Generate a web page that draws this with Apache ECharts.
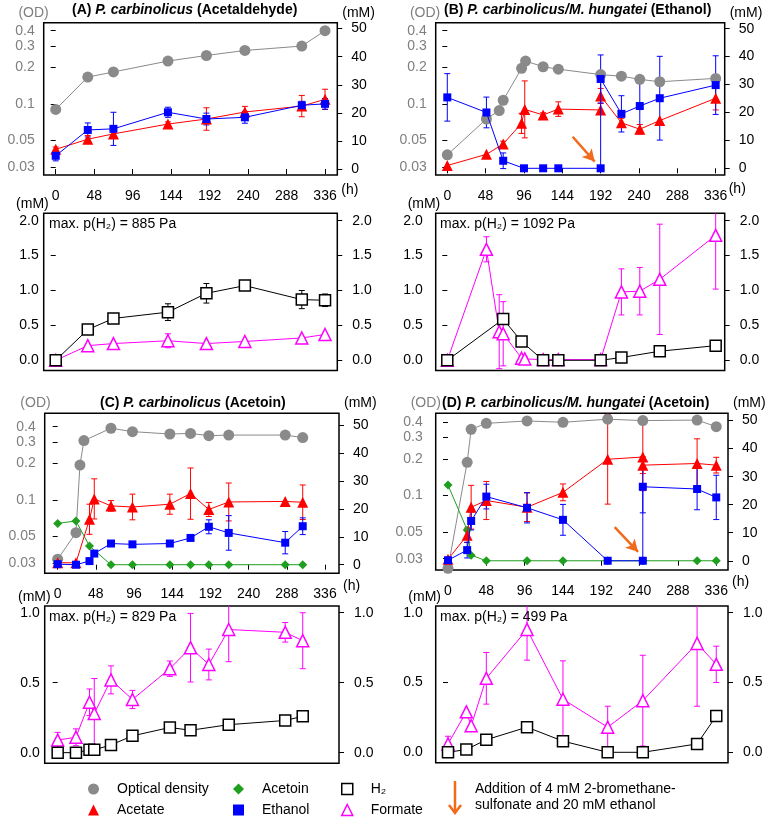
<!DOCTYPE html>
<html><head><meta charset="utf-8">
<script src="https://cdn.jsdelivr.net/npm/echarts@6/dist/echarts.min.js"></script>
<style>html,body{margin:0;padding:0;background:#fff}#c{width:773px;height:820px}</style>
</head><body><div id="c"></div>
<script>
// ---------------- tick labels ----------------
const xTicks = [0, 48, 96, 144, 192, 240, 288, 336];
const odTicks = [0.03, 0.05, 0.1, 0.2, 0.3, 0.4];
const mMTicks = [0, 10, 20, 30, 40, 50];
const h2TicksAB = [0, 0.5, 1, 1.5, 2];
const h2TicksCD = [0, 0.5, 1];

// ---------------- Panel A ----------------
const A_odTime = [0, 40, 72, 140, 188, 236, 307, 336];
const A_od = [0.090, 0.166, 0.183, 0.225, 0.250, 0.275, 0.299, 0.40];
const A_time = [0, 40, 72, 140, 188, 236, 307, 336];
const A_acetate = [7.0, 10.6, 12.5, 16.0, 17.8, 20.3, 22.4, 24.8];
const A_acetateSD = [0.8, 1.3, 1.5, 0.8, 4.0, 2.0, 3.8, 3.6];
const A_ethanol = [4.7, 13.9, 14.3, 20.2, 17.8, 18.4, 22.7, 23.2];
const A_ethanolSD = [1.8, 2.5, 5.9, 1.8, 2.1, 2.1, 1.4, 1.9];
const A_h2 = [0, 0.44, 0.60, 0.69, 0.96, 1.07, 0.87, 0.86];
const A_h2SD = [0, 0.02, 0.02, 0.12, 0.14, 0.03, 0.13, 0.09];
const A_formate = [0, 0.21, 0.24, 0.28, 0.24, 0.27, 0.32, 0.37];
const A_formateSD = [0, 0, 0, 0.10, 0, 0, 0, 0];

// ---------------- Panel B ----------------
const B_odTime = [0, 49, 65, 70, 93, 98, 120, 139, 192, 218, 241, 266, 336];
const B_od = [0.038, 0.075, 0.088, 0.107, 0.196, 0.225, 0.202, 0.193, 0.174, 0.169, 0.159, 0.152, 0.162];
const B_acTime = [0, 49, 70, 93, 97, 120, 139, 192, 192, 218, 241, 266, 336];
const B_acetate = [1.0, 5.0, 8.7, 16.1, 21.1, 19.1, 21.2, 20.9, 25.9, 16.3, 14.0, 17.1, 25.1];
const B_acetateSD = [0, 0, 1.0, 3.6, 10.2, 0.8, 2.6, 0, 2.7, 1.6, 1.7, 0, 4.2];
const B_etTime = [0, 49, 70, 96, 120, 139, 192, 192, 218, 241, 266, 336];
const B_ethanol = [25.4, 20.0, 2.7, 0, 0, 0, 0, 32.0, 19.5, 22.3, 25.1, 29.8];
const B_ethanolSD = [8.5, 5.5, 2.8, 0, 0, 0, 0, 8.6, 6.5, 9.0, 15.0, 10.5];
const B_h2Time = [0, 70, 93, 120, 139, 192, 218, 266, 336];
const B_h2 = [0, 0.59, 0.27, 0, 0, 0, 0.04, 0.13, 0.21];
const B_fmTime = [0, 49, 65, 70, 93, 97, 120, 139, 192, 218, 241, 266, 336];
const B_formate = [0, 1.59, 0.41, 0.38, 0.03, 0.02, 0.01, 0.01, 0.01, 0.98, 0.99, 1.16, 1.79];
const B_formateSD = [0, 0.18, 0.53, 0.46, 0.03, 0.03, 0.03, 0.03, 0.03, 0.33, 0.34, 0.79, 0.77];
const B_arrow = [[157, 11.3], [184.5, 2.4]];

// ---------------- Panel C ----------------
const C_odTime = [0, 23, 28, 33, 67, 94, 141, 167, 190, 215, 286, 308];
const C_od = [0.0324, 0.0536, 0.193, 0.307, 0.388, 0.364, 0.348, 0.352, 0.337, 0.341, 0.341, 0.325];
const C_time = [0, 23, 40, 46, 67, 94, 141, 167, 190, 215, 286, 308];
const C_acetate = [0.7, 0.7, 16.3, 23.6, 21.1, 20.7, 21.7, 25.5, 19.8, 22.5, 22.7, 22.4];
const C_acetateSD = [0, 0, 5.4, 7.2, 1.9, 4.6, 3.6, 9.2, 2.5, 6.8, 0, 6.2];
const C_ethanol = [0.2, 0, 1.3, 4.0, 7.6, 7.3, 7.6, 9.6, 13.6, 11.4, 7.9, 13.8];
const C_ethanolSD = [0, 0, 0, 0, 1.0, 0.5, 0.5, 0, 2.5, 6.2, 4.0, 3.0];
const C_atTime = [0, 23, 40, 67, 94, 141, 167, 190, 215, 286, 308];
const C_acetoin = [14.8, 15.7, 6.7, 0, 0, 0, 0, 0, 0, 0, 0];
const C_formate = [0.09, 0.11, 0.36, 0.28, 0.52, 0.38, 0.60, 0.75, 0.63, 0.88, 0.86, 0.80];
const C_formateSD = [0.055, 0.06, 0.095, 0.25, 0.10, 0.065, 0.055, 0.245, 0.11, 0.23, 0.07, 0.20];
const C_h2Time = [0, 23, 40, 46, 67, 94, 141, 167, 215, 286, 308];
const C_h2 = [0, 0, 0.02, 0.02, 0.055, 0.12, 0.18, 0.16, 0.20, 0.23, 0.26];

// ---------------- Panel D ----------------
const D_odTime = [0, 24, 29, 48, 99, 144, 200, 244, 312, 336];
const D_od = [0.025, 0.187, 0.350, 0.392, 0.410, 0.40, 0.424, 0.413, 0.417, 0.368];
const D_time = [0, 24, 29, 48, 99, 144, 200, 244, 244, 312, 336];
const D_acetate = [0.5, 9.1, 19.1, 21.5, 19.1, 24.4, 36.2, 37.0, 34.1, 34.7, 34.1];
const D_acetateSD = [0, 2.6, 7.8, 6.8, 5.1, 3.0, 16, 12, 3, 8.8, 2.8];
const D_ethanol = [0.2, 3.8, 14.2, 22.9, 18.9, 14.6, 0, 0, 26.4, 25.6, 22.6];
const D_ethanolSD = [0, 2.8, 3.2, 4.4, 5.4, 5.5, 0, 0, 9.3, 7.4, 7.9];
const D_atTime = [0, 24, 29, 48, 99, 144, 200, 244, 312, 336];
const D_acetoin = [27.0, 11, 2.0, 0, 0, 0, 0, 0, 0, 0];
const D_h2Time = [0, 23, 48, 99, 144, 200, 244, 312, 336];
const D_h2 = [0, 0.02, 0.09, 0.18, 0.08, 0, 0, 0.06, 0.26];
const D_fmTime = [0, 23, 29, 48, 99, 144, 200, 244, 312, 336];
const D_formate = [0.06, 0.29, 0.19, 0.53, 0.88, 0.38, 0.18, 0.37, 0.78, 0.63];
const D_formateSD = [0.055, 0, 0, 0.185, 0.22, 0.275, 0.15, 0.325, 0.45, 0.13];
const D_arrow = [[208.8, 12.0], [238, 3.2]];

// ---------------- styles ----------------
const FONT = 'Liberation Sans, Arial, Helvetica, sans-serif';
const COL = {od: '#8a8a8a', ac: '#ff0000', et: '#0000ff', at: '#1f9f1f', h2: '#000000', fm: '#ff00ff', arrow: '#f26a1b'};

const panels = [
  {top: {left: 43.7, top: 22.7, width: 293.6, height: 152.3}, bot: {left: 43.7, top: 213.3, width: 293.6, height: 157.2},
   x: [-15, 351.3], od: [-1.586, -0.332], mm: [-2.14, 52.1], h2: [-0.146, 2.106], h2Ticks: h2TicksAB,
   lmTop: 9, lmBot: 5, title: {left: 72, top: 3}, ph2: {x: 46, y: 215},
   titleParts: ['(A) ', 'P. carbinolicus', ' (Acetaldehyde)'], ph2Text: '885 Pa',
   od_: [A_odTime, A_od], ac_: [A_time, A_acetate, A_acetateSD], et_: [A_time, A_ethanol, A_ethanolSD], at_: null,
   h2_: [A_time, A_h2, A_h2SD], fm_: [A_time, A_formate, A_formateSD], arrow: null},
  {top: {left: 435.7, top: 22.7, width: 289, height: 152.3}, bot: {left: 435.7, top: 213.3, width: 289, height: 157.2},
   x: [-14.5, 347.3], od: [-1.586, -0.332], mm: [-2.40, 52.15], h2: [-0.146, 2.106], h2Ticks: h2TicksAB,
   lmTop: 9, lmBot: 13, title: {left: 444, top: 3}, ph2: {x: 437, y: 215},
   titleParts: ['(B) ', 'P. carbinolicus/M. hungatei', ' (Ethanol)'], ph2Text: '1092 Pa',
   od_: [B_odTime, B_od], ac_: [B_acTime, B_acetate, B_acetateSD], et_: [B_etTime, B_ethanol, B_ethanolSD], at_: null,
   h2_: [B_h2Time, B_h2, null], fm_: [B_fmTime, B_formate, B_formateSD], arrow: B_arrow},
  {top: {left: 44.7, top: 413.3, width: 294.3, height: 160}, bot: {left: 44.7, top: 606, width: 294.3, height: 157.3},
   x: [-16.3, 353.6], od: [-1.605, -0.288], mm: [-3.08, 54.3], h2: [-0.076, 1.048], h2Ticks: h2TicksCD,
   lmTop: 9, lmBot: 5, title: {left: 100, top: 396}, ph2: {x: 46, y: 608.5},
   titleParts: ['(C) ', 'P. carbinolicus', ' (Acetoin)'], ph2Text: '829 Pa',
   od_: [C_odTime, C_od], ac_: [C_time, C_acetate, C_acetateSD], et_: [C_time, C_ethanol, C_ethanolSD], at_: [C_atTime, C_acetoin],
   h2_: [C_h2Time, C_h2, null], fm_: [C_time, C_formate, C_formateSD], arrow: null},
  {top: {left: 435.7, top: 413.3, width: 292.3, height: 156.7}, bot: {left: 435.7, top: 606, width: 292.3, height: 156.7},
   x: [-15.4, 350.7], od: [-1.616, -0.324], mm: [-3.29, 52.6], h2: [-0.0745, 1.048], h2Ticks: h2TicksCD,
   lmTop: 13, lmBot: 13, title: {left: 442, top: 396}, ph2: {x: 437, y: 608.5},
   titleParts: ['(D) ', 'P. carbinolicus/M. hungatei', ' (Acetoin)'], ph2Text: '499 Pa',
   od_: [D_odTime, D_od], ac_: [D_time, D_acetate, D_acetateSD], et_: [D_time, D_ethanol, D_ethanolSD], at_: [D_atTime, D_acetoin],
   h2_: [D_h2Time, D_h2, null], fm_: [D_fmTime, D_formate, D_formateSD], arrow: D_arrow}
];

const grids = [], xAxes = [], yAxes = [], series = [], titles = [], graphics = [];
const lbl = (c) => ({fontSize: 14, fontFamily: FONT, color: c});

function mkX(gi, r, show) {
  const ax = {type: 'value', gridIndex: gi, min: r[0], max: r[1], show: show,
    axisLine: {show: false}, splitLine: {show: false},
    axisTick: {show: show, length: 5, customValues: xTicks, lineStyle: {color: '#000', width: 1}},
    axisLabel: Object.assign({show: show, customValues: xTicks, margin: 14}, lbl('#000'))};
  if (show) {
    ax.name = '(h)'; ax.nameLocation = 'end'; ax.nameGap = 4; ax.nameMoveOverlap = false;
    ax.nameTextStyle = Object.assign({align: 'left', verticalAlign: 'top', padding: [14, 0, 0, 0]}, lbl('#000'));
  }
  return ax;
}
function mkY(gi, pos, r, ticks, fmt, color, name, nameGap, margin) {
  const left = pos === 'left';
  const ax = {type: 'value', gridIndex: gi, position: pos, min: r[0], max: r[1],
    axisLine: {show: false}, splitLine: {show: false},
    axisTick: {show: true, length: 5, customValues: ticks, lineStyle: {color: '#000', width: 1}},
    axisLabel: Object.assign({customValues: ticks, margin: margin, formatter: fmt}, lbl(color))};
  if (name) {
    ax.name = '{p|' + name + '}'; ax.nameLocation = 'end'; ax.nameGap = nameGap; ax.nameMoveOverlap = false;
    ax.nameTextStyle = Object.assign({align: left ? 'right' : 'left', verticalAlign: 'middle',
      rich: {p: Object.assign({padding: left ? [0, 7, 0, 0] : [0, 0, 0, 5]}, lbl(color))}}, lbl(color));
  }
  return ax;
}
function lineS(name, xs, ys, xi, yi, o) {
  return {type: 'line', name: name, xAxisIndex: xi, yAxisIndex: yi,
    data: xs.map((x, i) => [x, o.tf ? o.tf(ys[i]) : ys[i]]),
    symbol: o.symbol, symbolSize: o.size, showSymbol: true, showAllSymbol: true, z: o.z,
    itemStyle: {color: o.fill, borderColor: o.stroke || o.fill, borderWidth: o.bw || 0, opacity: 1},
    lineStyle: {color: o.line, width: 1}, emphasis: {disabled: true}, silent: true, animation: false};
}
function errS(name, xs, ys, es, xi, yi, color) {
  const data = [];
  xs.forEach((x, i) => { if (es && es[i] > 0) data.push([x, ys[i] - es[i], ys[i] + es[i]]); });
  return {type: 'custom', name: name, xAxisIndex: xi, yAxisIndex: yi, clip: true, z: 1, silent: true, animation: false,
    encode: {x: 0, y: [1, 2]}, data: data,
    renderItem: function (params, api) {
      const x = api.value(0);
      const p1 = api.coord([x, api.value(1)]), p2 = api.coord([x, api.value(2)]);
      const w = 3, st = {stroke: color, lineWidth: 1};
      return {type: 'group', children: [
        {type: 'line', shape: {x1: p1[0], y1: p1[1], x2: p2[0], y2: p2[1]}, style: st},
        {type: 'line', shape: {x1: p1[0] - w, y1: p1[1], x2: p1[0] + w, y2: p1[1]}, style: st},
        {type: 'line', shape: {x1: p2[0] - w, y1: p2[1], x2: p2[0] + w, y2: p2[1]}, style: st}]};
    }};
}

const odFmt = (v) => String(+Math.pow(10, v).toPrecision(2));
const mmFmt = (v) => String(Math.round(v));
const h2Fmt = (v) => v.toFixed(1);

panels.forEach((p, k) => {
  const gT = 2 * k, gB = 2 * k + 1;
  grids.push(Object.assign({show: true, borderColor: '#000', borderWidth: 1.5, backgroundColor: 'transparent',
    containLabel: false, outerBoundsMode: 'none'}, p.top));
  grids.push(Object.assign({show: true, borderColor: '#000', borderWidth: 1.5, backgroundColor: 'transparent',
    containLabel: false, outerBoundsMode: 'none'}, p.bot));
  xAxes.push(mkX(gT, p.x, true));
  xAxes.push(mkX(gB, p.x, false));
  const yOD = 4 * k, yMM = 4 * k + 1, yH2L = 4 * k + 2, yH2R = 4 * k + 3;
  yAxes.push(mkY(gT, 'left', p.od, odTicks.map(Math.log10), odFmt, '#7f7f7f', '(OD)', 10, p.lmTop));
  yAxes.push(mkY(gT, 'right', p.mm, mMTicks, mmFmt, '#000', '(mM)', 10, 14));
  yAxes.push(mkY(gB, 'left', p.h2, p.h2Ticks, h2Fmt, '#000', '(mM)', 9, p.lmBot));
  yAxes.push(mkY(gB, 'right', p.h2, p.h2Ticks, h2Fmt, '#000', '', 9, 15));

  // top panel
  series.push(lineS('Optical density', p.od_[0], p.od_[1], gT, yOD,
    {symbol: 'circle', size: 11, fill: COL.od, line: COL.od, z: 2, tf: Math.log10}));
  if (p.at_) series.push(lineS('Acetoin', p.at_[0], p.at_[1], gT, yMM,
    {symbol: 'diamond', size: 9, fill: COL.at, line: COL.at, z: 3}));
  series.push(errS('Acetate', p.ac_[0], p.ac_[1], p.ac_[2], gT, yMM, COL.ac));
  series.push(lineS('Acetate', p.ac_[0], p.ac_[1], gT, yMM,
    {symbol: 'triangle', size: 11, fill: COL.ac, line: COL.ac, z: 4}));
  series.push(errS('Ethanol', p.et_[0], p.et_[1], p.et_[2], gT, yMM, COL.et));
  const et = lineS('Ethanol', p.et_[0], p.et_[1], gT, yMM,
    {symbol: 'rect', size: 8, fill: COL.et, line: COL.et, z: 5});
  if (p.arrow) {
    et.markLine = {silent: true, symbol: ['none', 'arrow'], symbolSize: [10, 12], animation: false,
      lineStyle: {color: COL.arrow, width: 2.5, type: 'solid'}, label: {show: false},
      data: [[{coord: p.arrow[0]}, {coord: p.arrow[1]}]]};
  }
  series.push(et);

  // bottom panel
  series.push(errS('Formate', p.fm_[0], p.fm_[1], p.fm_[2], gB, yH2L, COL.fm));
  series.push(lineS('Formate', p.fm_[0], p.fm_[1], gB, yH2L,
    {symbol: 'triangle', size: 12, fill: '#fff', stroke: COL.fm, bw: 1.5, line: COL.fm, z: 3}));
  series.push(errS('H₂', p.h2_[0], p.h2_[1], p.h2_[2], gB, yH2L, COL.h2));
  series.push(lineS('H₂', p.h2_[0], p.h2_[1], gB, yH2L,
    {symbol: 'rect', size: 11, fill: '#fff', stroke: COL.h2, bw: 1.5, line: COL.h2, z: 4}));

  titles.push({left: p.title.left, top: p.title.top, padding: 0,
    text: '{b|' + p.titleParts[0] + '}{i|' + p.titleParts[1] + '}{b|' + p.titleParts[2] + '}',
    textStyle: {rich: {
      b: {fontSize: 14, fontWeight: 'bold', fontFamily: FONT, color: '#000'},
      i: {fontSize: 14, fontWeight: 'bold', fontStyle: 'italic', fontFamily: FONT, color: '#000'}}}});
  graphics.push({type: 'text', x: p.ph2.x, y: p.ph2.y, z: 100,
    style: {text: '{w|max.}{n| p(H₂) = ' + p.ph2Text + '}', fill: '#000',
      rich: {
        w: {fontSize: 14, fontFamily: FONT, color: '#000', backgroundColor: '#fff', padding: [2, 0, 0, 3]},
        n: {fontSize: 14, fontFamily: FONT, color: '#000', padding: [2, 0, 0, 0]}}}});
});

const legendStyle = {
  'Optical density': {icon: 'circle', itemStyle: {color: COL.od}},
  'Acetate': {icon: 'triangle', itemStyle: {color: COL.ac}},
  'Acetoin': {icon: 'diamond', itemStyle: {color: COL.at}},
  'Ethanol': {icon: 'rect', itemStyle: {color: COL.et}},
  'H₂': {icon: 'rect', itemStyle: {color: '#fff', borderColor: '#000', borderWidth: 1.5}},
  'Formate': {icon: 'triangle', itemStyle: {color: '#fff', borderColor: COL.fm, borderWidth: 1.5}}
};
const legendCols = [['Optical density', 'Acetate'], ['Acetoin', 'Ethanol'], ['H₂', 'Formate']];
const legendLeft = [88, 233, 341];
const legends = legendCols.map((names, c) => ({
  left: legendLeft[c], top: 782, orient: 'vertical', padding: 0, itemGap: 7,
  itemWidth: 11, itemHeight: 11, selectedMode: false,
  formatter: (n) => '{t|' + n + '}',
  textStyle: {fontSize: 14, fontFamily: FONT, color: '#000',
    rich: {t: {fontSize: 14, fontFamily: FONT, color: '#000', padding: [0, 0, 0, 13]}}},
  data: names.map(n => Object.assign({name: n}, legendStyle[n]))
}));

graphics.push(
  {type: 'line', shape: {x1: 455, y1: 781, x2: 455, y2: 813}, style: {stroke: COL.arrow, lineWidth: 2.5}},
  {type: 'polyline', shape: {points: [[449, 805], [455, 813], [461, 805]]}, style: {stroke: COL.arrow, lineWidth: 2.5, fill: null}},
  {type: 'text', x: 475, y: 781, style: {text: 'Addition of 4 mM 2-bromethane-\nsulfonate and 20 mM ethanol',
    font: '14px ' + FONT, fill: '#000', lineHeight: 16}}
);

const option = {
  backgroundColor: '#fff', animation: false,
  title: titles, grid: grids, xAxis: xAxes, yAxis: yAxes, series: series, legend: legends,
  graphic: graphics
};
const chart = echarts.init(document.getElementById('c'), null, {renderer: 'canvas'});
chart.setOption(option);
</script></body></html>
